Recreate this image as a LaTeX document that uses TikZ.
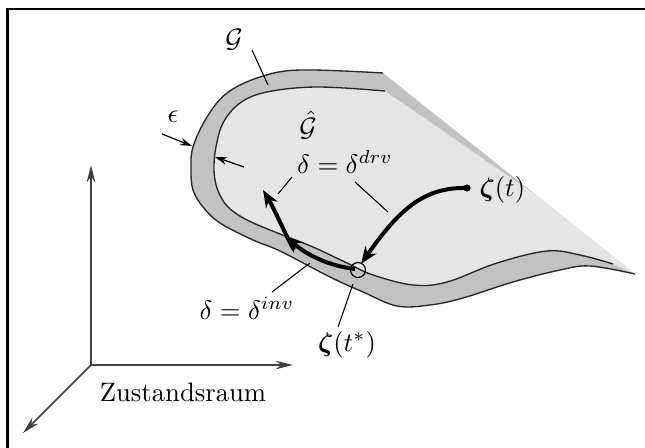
\documentclass[tikz,border=0pt]{standalone}
\usepackage{amsmath}
\usetikzlibrary{arrows.meta}
\definecolor{bandgray}{gray}{0.76}
\definecolor{regiongray}{gray}{0.9}
\begin{document}
\begin{tikzpicture}[x=0.375pt,y=-0.375pt,
  boundary/.style={line width=0.5pt, draw=black!85},
  leader/.style={line width=0.4pt, draw=black},
  thickarr/.style={line width=1.5pt, -{Stealth[length=6.5pt,width=5pt]}},
  axisarr/.style={line width=0.55pt, draw=black!75, -{Stealth[length=6.5pt,width=3.2pt]}},
  epsarr/.style={line width=0.45pt, -{Stealth[length=4.5pt,width=2.8pt]}},
  lbl/.style={inner sep=0pt}]
\useasboundingbox (0,0) rectangle (645,448);
\fill[white] (0,0) rectangle (645,448);
% frame
\draw[line width=1.1pt] (7.5,448) -- (7.5,9) -- (645,9);

% outer band
\fill[bandgray] plot[smooth, tension=0.6] coordinates {(383,73) (300,70) (260,77) (227,93) (207,117) (193,147) (191,170) (193,190) (203,207) (220,223) (253,240) (280,251) (330,277) (363,292) (397,306) (430,305) (463,298) (513,282) (560,270) (590,266) (635,274)} -- cycle;
% inner region
\fill[regiongray] plot[smooth, tension=0.6] coordinates {(385,91) (317,87) (267,92) (240,103) (223,123) (216,147) (214,165) (215,180) (219,193) (228,207) (247,220) (280,234) (313,247) (347,263) (373,275) (413,285) (447,282) (497,263) (547,251) (580,255) (613,264)} -- (635,274) -- (540,198) -- cycle;
% boundary lines
\draw[boundary] plot[smooth, tension=0.6] coordinates {(383,73) (300,70) (260,77) (227,93) (207,117) (193,147) (191,170) (193,190) (203,207) (220,223) (253,240) (280,251) (330,277) (363,292) (397,306) (430,305) (463,298) (513,282) (560,270) (590,266) (635,274)};
\draw[boundary] plot[smooth, tension=0.6] coordinates {(385,91) (317,87) (267,92) (240,103) (223,123) (216,147) (214,165) (215,180) (219,193) (228,207) (247,220) (280,234) (313,247) (347,263) (373,275) (413,285) (447,282) (497,263) (547,251) (580,255) (613,264)};

% axes
\coordinate (O) at (91,365);
\coordinate (Ay) at (91,165);
\coordinate (Ax) at (293,365);
\coordinate (Az) at (23,433);
\draw[axisarr] (O) -- (Ay);
\draw[axisarr] (O) -- (Ax);
\draw[axisarr] (O) -- (Az);

% labels
\node[lbl] (G) at (234,40) {$\mathcal{G}$};
\node[lbl] (Gh) at (308,125) {$\hat{\mathcal{G}}$};
\node[lbl] (eps) at (173,117) {$\epsilon$};
\node[lbl] (drv) at (345,162) {$\delta=\delta^{drv}$};
\node[lbl, anchor=west] (zt) at (479,190) {$\boldsymbol{\zeta}(t)$};
\node[lbl] (inv) at (247,308) {$\delta=\delta^{inv}$};
\node[lbl] (zts) at (347,345) {$\boldsymbol{\zeta}(t^*)$};
\node[lbl] (zr) at (183,392) {Zustandsraum};

% leader lines
\coordinate (Ga) at (252,50);  \coordinate (Gb) at (268,85);
\draw[leader] (Ga) -- (Gb);
\coordinate (d1a) at (292,177); \coordinate (d1b) at (278,194);
\draw[leader] (d1a) -- (d1b);
\coordinate (d2a) at (355,182); \coordinate (d2b) at (388,212);
\draw[leader] (d2a) -- (d2b);
\coordinate (ia) at (272,292); \coordinate (ib) at (310,263);
\draw[leader] (ia) -- (ib);
\coordinate (ta) at (338,327); \coordinate (tb) at (353,284);
\draw[leader] (ta) -- (tb);

% epsilon arrows
\coordinate (e1a) at (162,134); \coordinate (e1b) at (192,146);
\draw[epsarr] (e1a) -- (e1b);
\coordinate (e2a) at (244,167); \coordinate (e2b) at (215,157);
\draw[epsarr] (e2a) -- (e2b);

% trajectories
\coordinate (start) at (467,188);
\coordinate (hit) at (358,270);
\fill (start) circle[radius=3.6];
\draw[thickarr] (start) .. controls (425,187) and (400,208) .. (361,264);
\draw[thickarr] (355,269) .. controls (330,266) and (308,256) .. (285,236);
\draw[thickarr] (294,250) .. controls (284,232) and (276,212) .. (263,190);
\draw[line width=0.45pt] (hit) circle[radius=7.5];
\end{tikzpicture}
\end{document}
